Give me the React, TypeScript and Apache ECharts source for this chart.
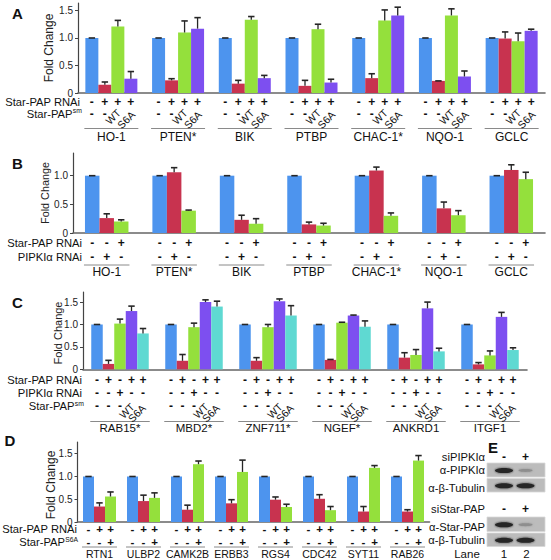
import React, { useEffect, useRef } from 'react';
import * as echarts from 'echarts';

const FONT = '"Liberation Sans", Arial, Helvetica, sans-serif';
const BLUE = '#4d94ee';
const RED = '#c8334f';
const GREEN = '#94e03c';
const PURPLE = '#7d4ff0';
const CYAN = '#5fd9d2';
const ERR = '#262626';
const INK = '#111111';

// ---------- Panel A ----------
const genesA = ['HO-1', 'PTEN*', 'BIK', 'PTBP', 'CHAC-1*', 'NQO-1', 'GCLC'];
const aControl = [1, 1, 1, 1, 1, 1, 1];
const aControlErr = [0, 0, 0, 0, 0, 0, 0];
const aRnai = [0.15, 0.23, 0.17, 0.13, 0.27, 0.22, 0.99];
const aRnaiErr = [0.05, 0.03, 0.06, 0.1, 0.08, 0, 0.12];
const aWT = [1.21, 1.1, 1.33, 1.16, 1.32, 1.41, 0.94];
const aWTErr = [0.11, 0.21, 0.06, 0.09, 0.19, 0.12, 0.15];
const aS6A = [0.26, 1.17, 0.27, 0.19, 1.41, 0.3, 1.13];
const aS6AErr = [0.13, 0.2, 0.05, 0.06, 0.15, 0.1, 0.03];
const aRowStarPapRnai = ['-', '+', '+', '+'];
const aRowStarPapSm = ['-', '-', 'WT', 'S6A'];
const ticksA = [0, 0.5, 1, 1.5];

// ---------- Panel B ----------
const genesB = ['HO-1', 'PTEN*', 'BIK', 'PTBP', 'CHAC-1*', 'NQO-1', 'GCLC'];
const bControl = [1, 1, 1, 1, 1, 1, 1];
const bControlErr = [0, 0, 0, 0, 0, 0, 0];
const bPipki = [0.26, 1.06, 0.23, 0.15, 1.09, 0.43, 1.1];
const bPipkiErr = [0.075, 0.08, 0.08, 0.04, 0.06, 0.11, 0.09];
const bStarPap = [0.2, 0.39, 0.16, 0.13, 0.3, 0.31, 0.94];
const bStarPapErr = [0.03, 0.01, 0.09, 0.04, 0.05, 0.08, 0.12];
const bRowStarPapRnai = ['-', '-', '+'];
const bRowPipkiRnai = ['-', '+', '-'];
const ticksB = [0, 0.5, 1];

// ---------- Panel C ----------
const genesC = ['RAB15*', 'MBD2*', 'ZNF711*', 'NGEF*', 'ANKRD1', 'ITGF1'];
const cControl = [1, 1, 1, 1, 1, 1];
const cControlErr = [0, 0, 0, 0, 0, 0];
const cRnai = [0.12, 0.19, 0.19, 0.21, 0.26, 0.11];
const cRnaiErr = [0.08, 0.14, 0.07, 0.01, 0.11, 0.04];
const cPipki = [1.02, 0.94, 0.94, 1.04, 0.32, 0.31];
const cPipkiErr = [0.1, 0.09, 0.06, 0.01, 0.12, 0.1];
const cWT = [1.3, 1.5, 1.52, 1.2, 1.36, 1.17];
const cWTErr = [0.11, 0.05, 0.05, 0.01, 0.14, 0.1];
const cS6A = [0.8, 1.4, 1.2, 0.95, 0.4, 0.43];
const cS6AErr = [0.11, 0.12, 0.22, 0.13, 0.07, 0.05];
const cRowStarPapRnai = ['-', '+', '-', '+', '+'];
const cRowPipkiRnai = ['-', '-', '+', '-', '-'];
const cRowStarPapSm = ['-', '-', '-', 'WT', 'S6A'];
const ticksC = [0, 0.5, 1, 1.5];

// ---------- Panel D ----------
const genesD = ['RTN1', 'ULBP2', 'CAMK2B', 'ERBB3', 'RGS4', 'CDC42', 'SYT11', 'RAB26'];
const dControl = [1, 1, 1, 1, 1, 1, 1, 1];
const dControlErr = [0, 0, 0, 0, 0, 0, 0, 0];
const dRnai = [0.34, 0.46, 0.27, 0.41, 0.49, 0.51, 0.23, 0.23];
const dRnaiErr = [0.08, 0.13, 0.1, 0.08, 0.06, 0.09, 0.11, 0.04];
const dS6A = [0.56, 0.53, 1.27, 1.1, 0.33, 0.26, 1.19, 1.35];
const dS6AErr = [0.1, 0.11, 0.07, 0.26, 0.06, 0.08, 0.05, 0.11];
const dRowStarPapRnai = ['-', '+', '+'];
const dRowStarPapS6A = ['-', '-', '+'];
const ticksD = [0, 0.5, 1, 1.5];

type Row = { label: string; sup?: string; supW?: number; y: number; marks: string[] };
type Panel = {
  grid: { left: number; top: number; width: number; height: number };
  max: number;
  ticks: number[];
  genes: string[];
  barW: number;
  bars: [number[], number[], string][];
  rows: Row[];
  labelRight: number;
  rotY: [number, number];
  rotOff: [number, number];
  ulY: number;
  geneY: number;
  geneFont: number;
  rowFont: number;
  markFont: number;
  tickFont: number;
  fold: { x: number; y: number; size: number };
  letter: { t: string; x: number; y: number };
};

const panels: Panel[] = [
  {
    grid: { left: 78, top: 3, width: 467, height: 90 },
    max: 1.636,
    ticks: ticksA,
    genes: genesA,
    barW: 13,
    bars: [
      [aControl, aControlErr, BLUE],
      [aRnai, aRnaiErr, RED],
      [aWT, aWTErr, GREEN],
      [aS6A, aS6AErr, PURPLE],
    ],
    rows: [
      { label: 'Star-PAP RNAi', y: 102.3, marks: aRowStarPapRnai },
      { label: 'Star-PAP', sup: 'sm', supW: 7.5, y: 113.7, marks: aRowStarPapSm },
    ],
    labelRight: 80,
    rotY: [117, 120],
    rotOff: [-4.5, -4.5],
    ulY: 128.5,
    geneY: 136.5,
    geneFont: 12,
    rowFont: 11.2,
    markFont: 12,
    tickFont: 10,
    fold: { x: 49, y: 48, size: 12 },
    letter: { t: 'A', x: 17.5, y: 13 },
  },
  {
    grid: { left: 73, top: 153, width: 472, height: 80 },
    max: 1.396,
    ticks: ticksB,
    genes: genesB,
    barW: 14.5,
    bars: [
      [bControl, bControlErr, BLUE],
      [bPipki, bPipkiErr, RED],
      [bStarPap, bStarPapErr, GREEN],
    ],
    rows: [
      { label: 'Star-PAP RNAi', y: 243, marks: bRowStarPapRnai },
      { label: 'PIPKIα RNAi', y: 256.8, marks: bRowPipkiRnai },
    ],
    labelRight: 82,
    rotY: [0, 0],
    rotOff: [0, 0],
    ulY: 265,
    geneY: 271.5,
    geneFont: 12,
    rowFont: 11.2,
    markFont: 12,
    tickFont: 10,
    fold: { x: 45, y: 193, size: 10.8 },
    letter: { t: 'B', x: 17.5, y: 163 },
  },
  {
    grid: { left: 83, top: 292, width: 444, height: 77.3 },
    max: 1.725,
    ticks: ticksC,
    genes: genesC,
    barW: 11.5,
    bars: [
      [cControl, cControlErr, BLUE],
      [cRnai, cRnaiErr, RED],
      [cPipki, cPipkiErr, GREEN],
      [cWT, cWTErr, PURPLE],
      [cS6A, cS6AErr, CYAN],
    ],
    rows: [
      { label: 'Star-PAP RNAi', y: 379.5, marks: cRowStarPapRnai },
      { label: 'PIPKIα RNAi', y: 392.8, marks: cRowPipkiRnai },
      { label: 'Star-PAP', sup: 'sm', supW: 7.5, y: 406.3, marks: cRowStarPapSm },
    ],
    labelRight: 82,
    rotY: [411, 413.5],
    rotOff: [-4.5, -6],
    ulY: 421.5,
    geneY: 428,
    geneFont: 11.5,
    rowFont: 11.2,
    markFont: 12,
    tickFont: 10,
    fold: { x: 57.5, y: 333, size: 11 },
    letter: { t: 'C', x: 17.5, y: 302 },
  },
  {
    grid: { left: 77.5, top: 442, width: 352, height: 80 },
    max: 1.758,
    ticks: ticksD,
    genes: genesD,
    barW: 11,
    bars: [
      [dControl, dControlErr, BLUE],
      [dRnai, dRnaiErr, RED],
      [dS6A, dS6AErr, GREEN],
    ],
    rows: [
      { label: 'Star-PAP RNAi', y: 529.3, marks: dRowStarPapRnai },
      { label: 'Star-PAP', sup: 'S6A', supW: 12, y: 542, marks: dRowStarPapS6A },
    ],
    labelRight: 77,
    rotY: [0, 0],
    rotOff: [0, 0],
    ulY: 547,
    geneY: 554,
    geneFont: 10.5,
    rowFont: 11.2,
    markFont: 11.5,
    tickFont: 10,
    fold: { x: 51, y: 485, size: 12 },
    letter: { t: 'D', x: 10, y: 440 },
  },
];

function txt(
  x: number,
  y: number,
  text: string,
  o: { size?: number; bold?: boolean; align?: string; rot?: number; fill?: string; vAlign?: string } = {}
) {
  const align = o.align || 'center';
  const v = o.vAlign || 'middle';
  return {
    type: 'text',
    x,
    y,
    rotation: o.rot || 0,
    silent: true,
    z: 10,
    style: {
      text,
      fill: o.fill || INK,
      fontSize: o.size || 11.5,
      fontFamily: FONT,
      fontWeight: o.bold ? 'bold' : 'normal',
      align,
      textAlign: align,
      verticalAlign: v,
      textVerticalAlign: v,
    },
  };
}

function buildOption() {
  const series: any[] = [];
  panels.forEach((p, i) => {
    const n = p.bars.length;
    const w = p.barW;
    p.bars.forEach(([vals, , color]) => {
      series.push({
        type: 'bar',
        xAxisIndex: i,
        yAxisIndex: i,
        data: vals,
        barWidth: w,
        barGap: '0%',
        silent: true,
        itemStyle: { color },
      });
    });
    const errData: number[][] = [];
    p.bars.forEach(([vals, errs], k) => {
      vals.forEach((v, c) => errData.push([c, k, v, errs[c]]));
    });
    series.push({
      type: 'custom',
      xAxisIndex: i,
      yAxisIndex: i,
      silent: true,
      clip: false,
      z: 5,
      dimensions: ['cat', 'k', 'v', 'e'],
      encode: { x: 0, y: 2 },
      data: errData,
      renderItem: (_params: any, api: any) => {
        const c = api.value(0);
        const k = api.value(1);
        const v = api.value(2);
        const e = api.value(3);
        const base = api.coord([c, v]);
        const x = base[0] - (n * w) / 2 + (k + 0.5) * w;
        const yTop = api.coord([c, v + e])[1];
        const cap = 3.2;
        return {
          type: 'group',
          children: [
            {
              type: 'line',
              shape: { x1: x, y1: base[1], x2: x, y2: yTop },
              style: { stroke: ERR, lineWidth: 1.3 },
            },
            {
              type: 'line',
              shape: { x1: x - cap, y1: yTop, x2: x + cap, y2: yTop },
              style: { stroke: ERR, lineWidth: 1.6 },
            },
          ],
        };
      },
    });
  });

  return {
    animation: false,
    backgroundColor: '#ffffff',
    textStyle: { fontFamily: FONT },
    grid: panels.map((p) => ({ ...p.grid, containLabel: false, outerBoundsMode: 'none' })),
    xAxis: panels.map((p, i) => ({
      type: 'category',
      gridIndex: i,
      data: p.genes,
      axisLine: { show: true, lineStyle: { color: '#666', width: 1.6 } },
      axisTick: { show: false },
      axisLabel: { show: false },
      splitLine: { show: false },
    })),
    yAxis: panels.map((p, i) => ({
      type: 'value',
      gridIndex: i,
      min: 0,
      max: p.max,
      interval: 0.5,
      axisLine: { show: true, lineStyle: { color: '#444', width: 1.2 } },
      axisTick: { show: true, length: 3, customValues: p.ticks, lineStyle: { color: '#444' } },
      axisLabel: {
        customValues: p.ticks,
        margin: 5,
        fontSize: p.tickFont,
        lineHeight: 10,
        color: '#222',
        fontFamily: FONT,
        formatter: (v: number) => (v === 0 ? '0' : v.toFixed(1)),
      },
      splitLine: { show: false },
    })),
    series,
  };
}

function buildGraphic(chart: any) {
  const g: any[] = [];
  panels.forEach((p, i) => {
    const n = p.bars.length;
    const w = p.barW;
    g.push(txt(p.letter.x, p.letter.y, p.letter.t, { size: 15, bold: true }));
    g.push(txt(p.fold.x, p.fold.y, 'Fold Change', { size: p.fold.size, rot: Math.PI / 2, fill: '#222' }));
    p.rows.forEach((r) => {
      if (r.sup) {
        const sw = r.supW || 8;
        g.push(txt(p.labelRight - sw, r.y, r.label, { align: 'right', size: p.rowFont }));
        g.push(txt(p.labelRight - sw + 0.3, r.y - 3, r.sup, { align: 'left', size: 6.8 }));
      } else {
        g.push(txt(p.labelRight, r.y, r.label, { align: 'right', size: p.rowFont }));
      }
    });
    p.genes.forEach((gene, c) => {
      const pt = chart.convertToPixel({ gridIndex: i }, [c, 0]);
      const cx = pt[0];
      const x0 = cx - (n * w) / 2;
      p.rows.forEach((r) => {
        r.marks.forEach((m, k) => {
          const bx = x0 + (k + 0.5) * w;
          if (m === '+' || m === '-') {
            g.push(txt(bx, r.y, m, { size: p.markFont, bold: true }));
          } else if (m) {
            const idx = m === 'WT' ? 0 : 1;
            g.push(txt(bx + p.rotOff[idx], p.rotY[idx], m, { size: 10.5, rot: Math.PI / 4 }));
          }
        });
      });
      g.push({
        type: 'line',
        silent: true,
        shape: { x1: x0 - 1, y1: p.ulY, x2: x0 + n * w + 1, y2: p.ulY },
        style: { stroke: '#8a8a8a', lineWidth: 1 },
      });
      g.push(txt(cx, p.geneY, gene, { size: p.geneFont }));
    });
  });

  // ---------- Panel E (western blot) ----------
  const lane1 = 504;
  const lane2 = 525.5;
  g.push(txt(493, 447, 'E', { size: 15, bold: true }));
  g.push(txt(485, 457, 'siPIPKIα', { align: 'right', size: 11.2 }));
  g.push(txt(lane1, 457, '-', { size: 12, bold: true }));
  g.push(txt(lane2, 457, '+', { size: 12, bold: true }));
  const boxes = [
    { y: 463, h: 14, label: 'α-PIPKIα', ly: 470, b1: 1, b2: 0.25 },
    { y: 478.5, h: 13.5, label: 'α-β-Tubulin', ly: 487.5, b1: 1, b2: 1 },
    { y: 517, h: 14.5, label: 'α-Star-PAP', ly: 527, b1: 1, b2: 0.3 },
    { y: 533, h: 13.5, label: 'α-β-Tubulin', ly: 539.5, b1: 1, b2: 1 },
  ];
  boxes.forEach((b) => {
    g.push({
      type: 'rect',
      silent: true,
      shape: { x: 487, y: b.y, width: 58, height: b.h },
      style: { fill: '#bcbcbc', stroke: '#d8d8d8', lineWidth: 0.8 },
    });
    const cy = b.y + b.h / 2 + 0.5;
    [
      [lane1, b.b1],
      [lane2, b.b2],
    ].forEach(([lx, s]) => {
      g.push({
        type: 'ellipse',
        silent: true,
        shape: { cx: lx, cy, rx: s > 0.5 ? 9 : 7, ry: s > 0.5 ? 2.6 : 1.4 },
        style: {
          fill: s > 0.5 ? '#262626' : '#8e8e8e',
          shadowBlur: 2.5,
          shadowColor: s > 0.5 ? 'rgba(20,20,20,0.8)' : 'rgba(120,120,120,0.6)',
        },
      });
    });
    g.push(txt(485, b.ly, b.label, { align: 'right', size: 11.2 }));
  });
  g.push(txt(485, 509, 'siStar-PAP', { align: 'right', size: 11.2 }));
  g.push(txt(lane1, 509, '-', { size: 12, bold: true }));
  g.push(txt(lane2, 509, '+', { size: 12, bold: true }));
  g.push(txt(467, 553.5, 'Lane', { size: 11.5 }));
  g.push(txt(lane1, 553.5, '1', { size: 11.5 }));
  g.push(txt(lane2 + 1, 553.5, '2', { size: 11.5 }));
  return g;
}

export default function App() {
  const ref = useRef<HTMLDivElement | null>(null);
  useEffect(() => {
    if (!ref.current) return;
    const chart = echarts.init(ref.current, undefined, { renderer: 'svg' });
    chart.setOption(buildOption() as any);
    chart.setOption({ graphic: buildGraphic(chart) } as any);
    return () => chart.dispose();
  }, []);
  return (
    <div
      ref={ref}
      style={{ position: 'fixed', left: 0, top: 0, width: 551, height: 560, background: '#fff' }}
    />
  );
}
